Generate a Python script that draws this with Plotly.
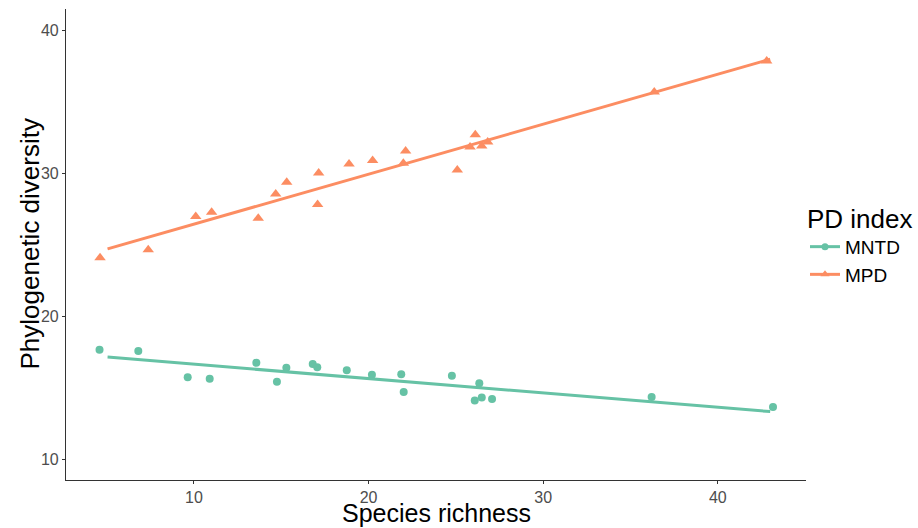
import plotly.graph_objects as go

# MPD (triangles)
mpd_x = [4.62, 7.38, 10.1, 11.01, 13.68, 14.68, 15.31, 17.14, 17.08, 18.88,
         20.23, 22.12, 21.99, 25.08, 26.11, 25.81, 26.48, 26.82, 36.36, 42.8]
mpd_y = [24.1, 24.65, 26.98, 27.29, 26.87, 28.57, 29.39, 30.04, 27.82, 30.67,
         30.9, 31.58, 30.72, 30.25, 32.72, 31.86, 31.93, 32.21, 35.71, 37.88]

# MNTD (circles)
mntd_x = [4.59, 6.81, 9.64, 10.9, 13.57, 14.75, 15.29, 16.8, 17.06, 18.75,
          20.19, 21.87, 22.01, 24.77, 26.34, 26.08, 26.48, 27.07, 36.21, 43.16]
mntd_y = [17.66, 17.56, 15.72, 15.63, 16.75, 15.42, 16.4, 16.65, 16.42, 16.21,
          15.91, 15.93, 14.7, 15.84, 15.3, 14.09, 14.3, 14.21, 14.35, 13.65]

# fitted regression lines
fit_x = [5.05, 43.0]
mpd_fit = [24.72, 38.0]
mntd_fit = [17.14, 13.32]

x_ticks = [10, 20, 30, 40]
y_ticks = [10, 20, 30, 40]

C_MNTD = "#66C2A5"
C_MPD = "#FC8D62"
FONT = "Liberation Sans, Arial, sans-serif"

fig = go.Figure()

fig.add_trace(go.Scatter(x=mntd_x, y=mntd_y, mode="markers",
                         marker=dict(symbol="circle", size=8, color=C_MNTD),
                         showlegend=False, legendgroup="MNTD"))
fig.add_trace(go.Scatter(x=fit_x, y=mntd_fit, mode="lines",
                         line=dict(color=C_MNTD, width=3),
                         showlegend=False, legendgroup="MNTD"))
fig.add_trace(go.Scatter(x=mpd_x, y=mpd_y, mode="markers",
                         marker=dict(symbol="triangle-up", size=10, color=C_MPD),
                         showlegend=False, legendgroup="MPD"))
fig.add_trace(go.Scatter(x=fit_x, y=mpd_fit, mode="lines",
                         line=dict(color=C_MPD, width=3),
                         showlegend=False, legendgroup="MPD"))

# legend entries
fig.add_trace(go.Scatter(x=[None], y=[None], mode="lines+markers", name="MNTD",
                         marker=dict(symbol="circle", size=7, color=C_MNTD),
                         line=dict(color=C_MNTD, width=3), legendgroup="MNTD"))
fig.add_trace(go.Scatter(x=[None], y=[None], mode="lines+markers", name="MPD",
                         marker=dict(symbol="triangle-up", size=8, color=C_MPD),
                         line=dict(color=C_MPD, width=3), legendgroup="MPD"))

axis_common = dict(showgrid=False, zeroline=False, showline=True,
                   linecolor="#333333", linewidth=1.2, ticks="outside",
                   ticklen=3, tickcolor="#333333", tickwidth=1,
                   automargin=False,
                   tickfont=dict(family=FONT, size=16, color="#4D4D4D"))

fig.update_layout(
    width=918, height=528,
    margin=dict(l=66, r=112, t=9, b=48, autoexpand=False),
    paper_bgcolor="white", plot_bgcolor="white",
    font=dict(family=FONT),
    xaxis=dict(range=[2.67, 45.05], tickvals=x_ticks, **axis_common),
    yaxis=dict(range=[8.53, 41.52], tickvals=y_ticks, **axis_common),
    legend=dict(title=dict(text="PD index", font=dict(size=26, color="black")),
                font=dict(size=19, color="black"),
                xref="container", yref="container",
                x=805 / 918, xanchor="left", y=(528 - 244) / 528, yanchor="middle",
                itemwidth=30, tracegroupgap=0, bgcolor="rgba(0,0,0,0)"),
    annotations=[
        dict(text="Species richness", xref="paper", yref="paper",
             x=0.5, y=(480 - 513) / 471, xanchor="center", yanchor="middle",
             showarrow=False, font=dict(size=25, color="black", family=FONT)),
        dict(text="Phylogenetic diversity", xref="paper", yref="paper",
             x=(29 - 66) / 740, y=0.5, xanchor="center", yanchor="middle",
             textangle=-90, showarrow=False,
             font=dict(size=26, color="black", family=FONT)),
    ],
)

fig.write_html("out.html")
